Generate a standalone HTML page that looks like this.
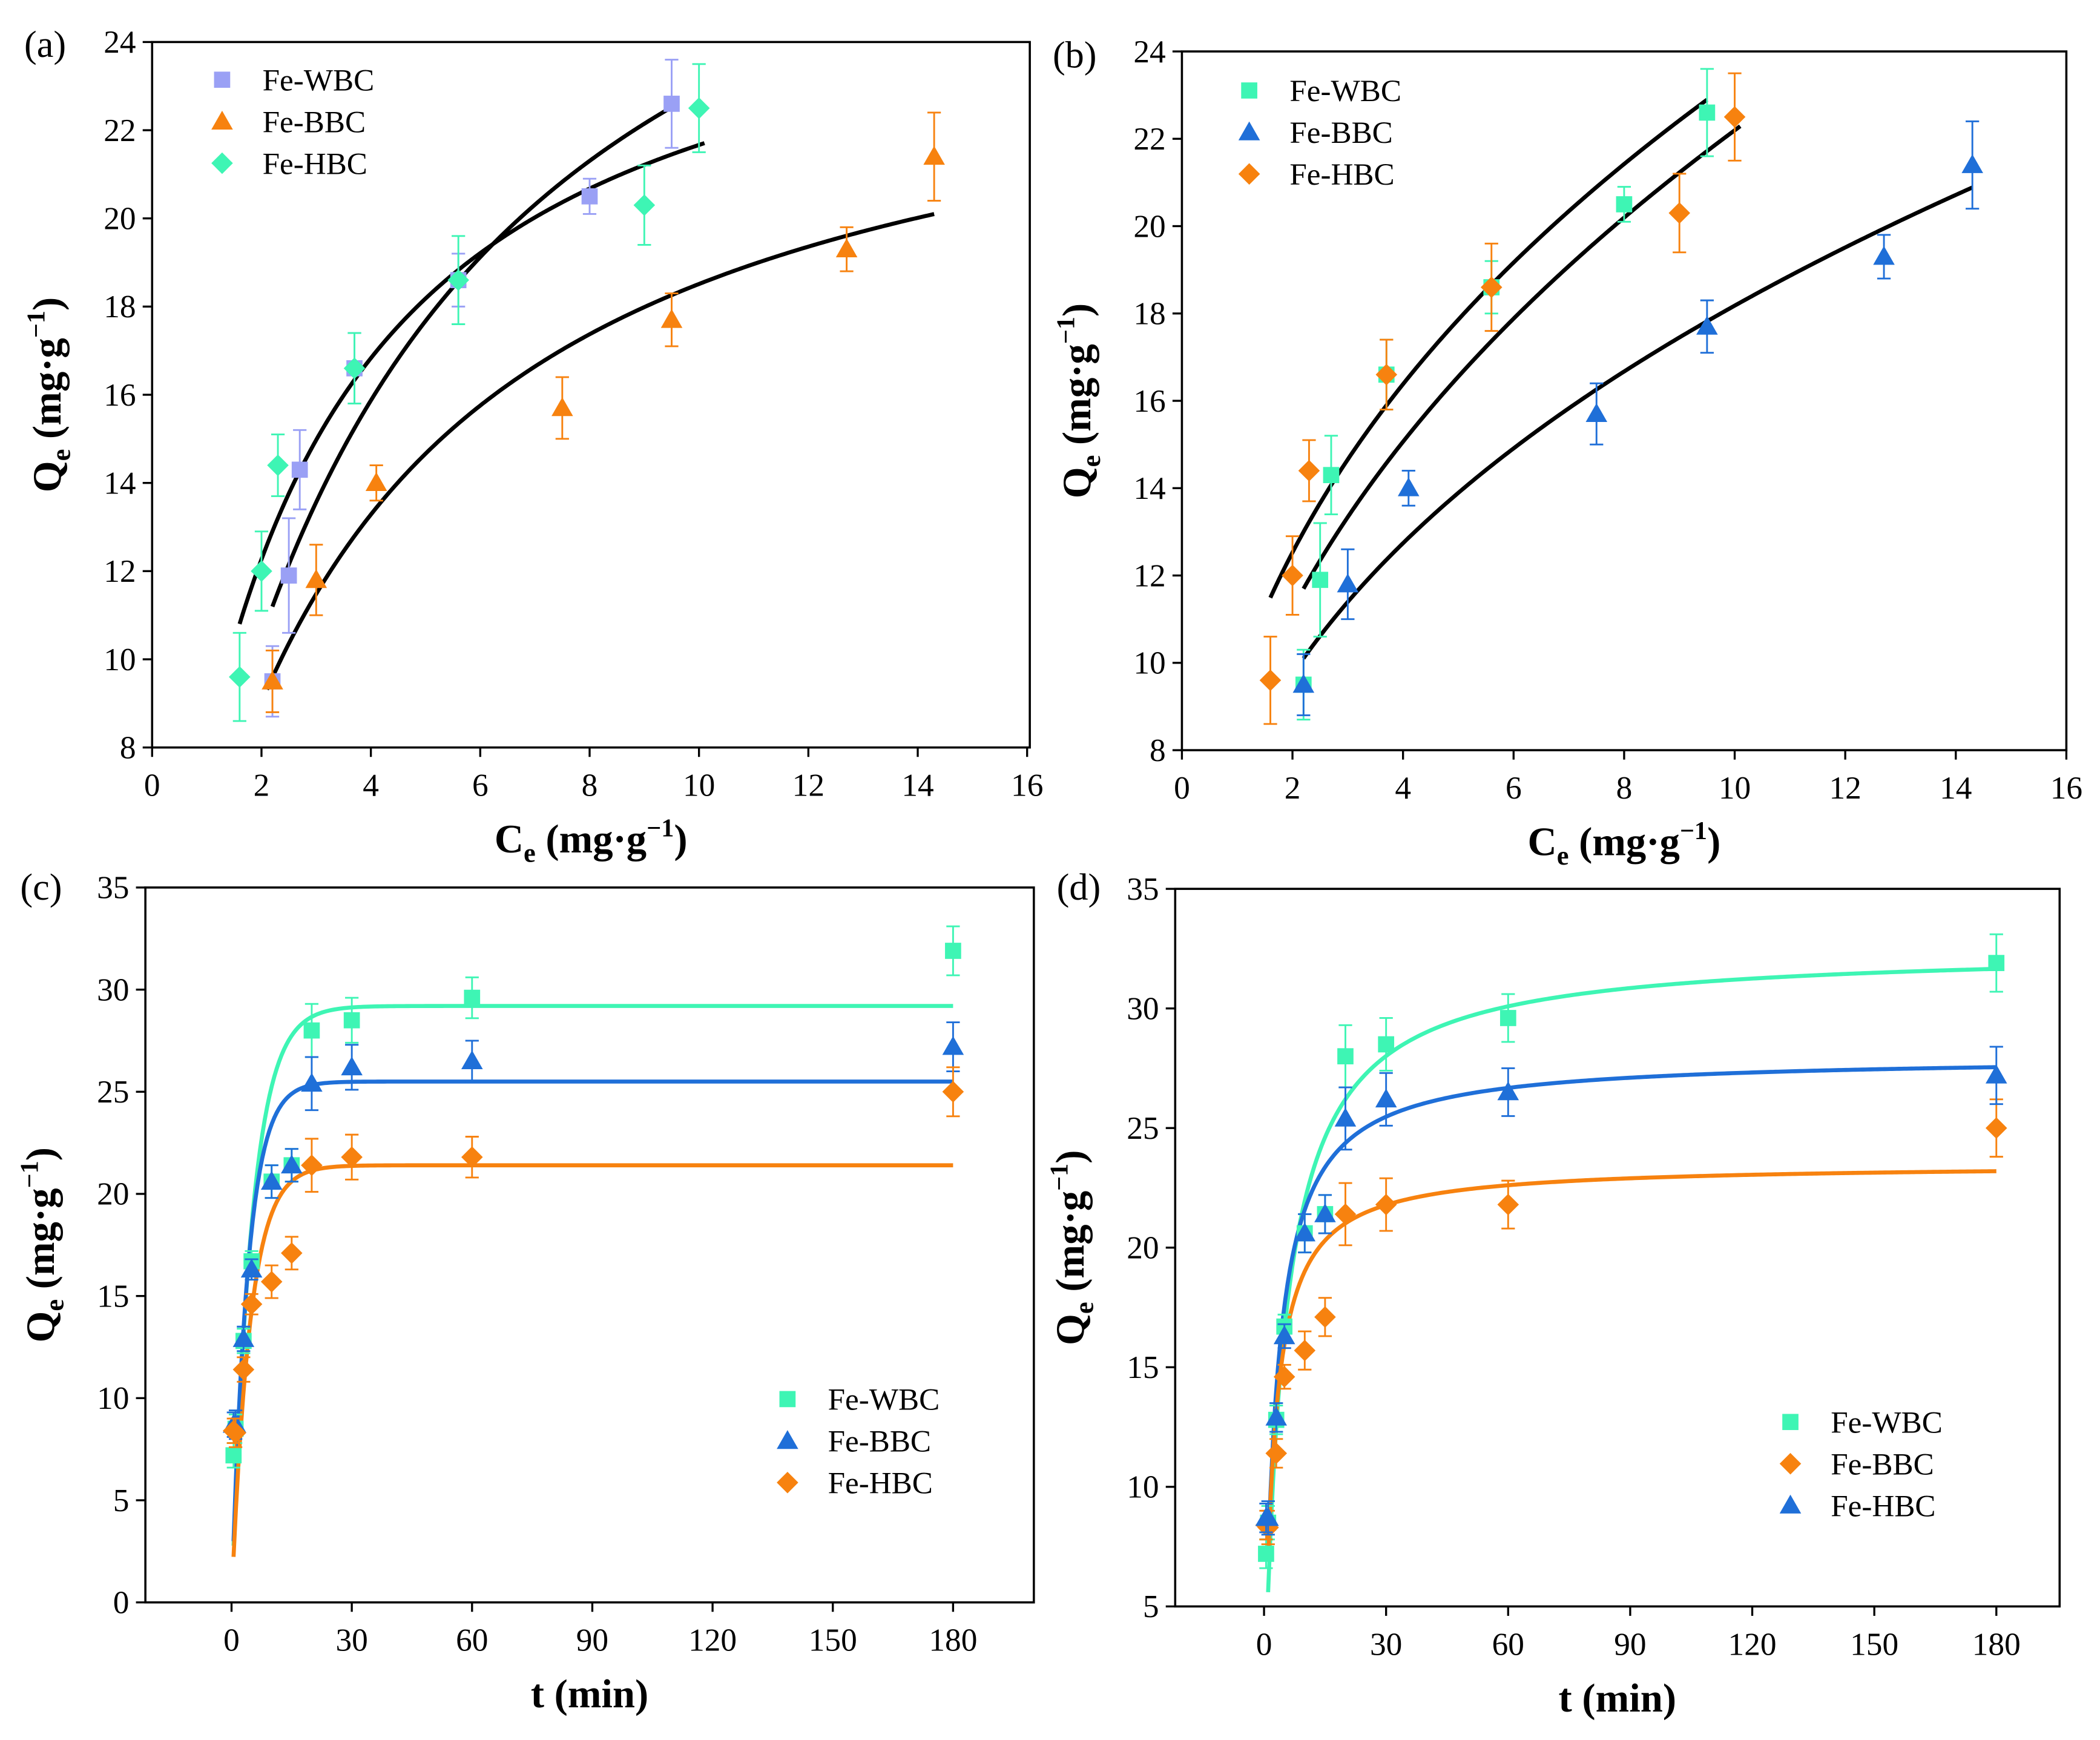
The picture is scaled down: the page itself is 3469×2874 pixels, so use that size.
<!DOCTYPE html>
<html><head><meta charset="utf-8"><style>
html,body{margin:0;padding:0;background:#fff}
svg{display:block}
text{font-family:"Liberation Serif",serif}
</style></head><body>
<svg id="chart" width="3469" height="2874" viewBox="0 0 1560 1292" xmlns="http://www.w3.org/2000/svg"></svg>
<script>
// ---- data ----
const ceWBC=[2.2,2.5,2.7,3.7,5.6,8.0,9.5];
const qeWBC=[9.5,11.9,14.3,16.6,18.6,20.5,22.6];
const errWBC=[0.8,1.3,0.9,0.8,0.6,0.4,1.0];
const ceBBC=[2.2,3.0,4.1,7.5,9.5,12.7,14.3];
const qeBBC=[9.5,11.8,14.0,15.7,17.7,19.3,21.4];
const errBBC=[0.7,0.8,0.4,0.7,0.6,0.5,1.0];
const ceHBC=[1.6,2.0,2.3,3.7,5.6,9.0,10.0];
const qeHBC=[9.6,12.0,14.4,16.6,18.6,20.3,22.5];
const errHBC=[1.0,0.9,0.7,0.8,1.0,0.9,1.0];
const tTimes=[0.5,1,3,5,10,15,20,30,60,180];
const qtWBC=[7.2,8.5,12.8,16.7,20.6,21.4,28.0,28.5,29.6,31.9];
const qtBBC=[8.7,8.7,12.9,16.3,20.6,21.4,25.4,26.2,26.5,27.2];
const qtHBC=[8.4,8.3,11.4,14.6,15.7,17.1,21.4,21.8,21.8,25.0];
const qtErr=[0.6,0.7,0.6,0.5,0.8,0.8,1.3,1.1,1.0,1.2];
const xTicksA=[0,2,4,6,8,10,12,14,16];
const yTicksA=[8,10,12,14,16,18,20,22,24];
const xTicksT=[0,30,60,90,120,150,180];
const yTicksC=[0,5,10,15,20,25,30,35];
const yTicksD=[5,10,15,20,25,30,35];
// fit parameters
const langA=[[26.8,0.422,1.6,10.1],[32.4,0.240,2.2,9.5],[25.1,0.281,2.1,14.3]];
const freundB=[[9.58,0.387,1.6,9.5],[8.38,0.423,2.2,10.1],[7.44,0.388,2.2,14.3]];
const pfoQe=[29.2,25.5,21.4], pfoK=[0.2,0.25,0.22];
const psoQe=[32.5,28.0,23.5], psoK=[0.0064,0.012,0.018];

const MINT="#3ef5b4", LAV="#9aa0f5", ORG="#f7820f", BLUE="#1f6fd8";
const svg=document.getElementById('chart');
const NS="http://www.w3.org/2000/svg";
function el(tag,attrs,parent){const e=document.createElementNS(NS,tag);for(const k in attrs)e.setAttribute(k,attrs[k]);(parent||svg).appendChild(e);return e;}

function marker(g,shape,x,y,c){
  let m;
  if(shape==='sq') m=el('rect',{x:x-6,y:y-6,width:12,height:12,fill:c},g);
  else if(shape==='tri') m=el('polygon',{points:`${x},${y-8} ${x-8},${y+6} ${x+8},${y+6}`,fill:c},g);
  else m=el('polygon',{points:`${x},${y-8} ${x+8},${y} ${x},${y+8} ${x-8},${y}`,fill:c},g);
  
  
}

function panel(o){
  const g=el('g',{});
  
  
  const sx=v=>o.x0+(v-o.xmin)/(o.xmax-o.xmin)*(o.x1-o.x0);
  const sy=v=>o.y0-(v-o.ymin)/(o.ymax-o.ymin)*(o.y0-o.y1);
  const frame=el('rect',{x:o.bx0,y:o.y1,width:o.bx1-o.bx0,height:o.y0-o.y1,fill:'none',stroke:'#000','stroke-width':1.6},g);
  
  o.xt.forEach(v=>{const x=sx(v);el('line',{x1:x,x2:x,y1:o.y0,y2:o.y0+7,stroke:'#000','stroke-width':1.5},g);
    const t=el('text',{x:x,y:o.y0+36,'font-size':24,'text-anchor':'middle'},g);t.textContent=v;
    });
  o.yt.forEach(v=>{const y=sy(v);el('line',{x1:o.bx0-7,x2:o.bx0,y1:y,y2:y,stroke:'#000','stroke-width':1.5},g);
    const t=el('text',{x:o.bx0-12,y:y+8,'font-size':24,'text-anchor':'end'},g);t.textContent=v;
    });
  o.curves.forEach(cv=>{let d='';const n=300;
    for(let i=0;i<=n;i++){const v=cv.from+(cv.to-cv.from)*i/n;d+=(i?'L':'M')+sx(v).toFixed(2)+','+sy(cv.f(v)).toFixed(2);}
    const p=el('path',{d:d,fill:'none',stroke:cv.c,'stroke-width':3},g);
    });
  o.series.forEach(s=>{
    s.xs.forEach((xv,i)=>{const x=sx(xv),y=sy(s.ys[i]),e=s.err[i];
      const ya=sy(s.ys[i]+e),yb=sy(s.ys[i]-e);
      el('line',{x1:x,x2:x,y1:ya,y2:yb,stroke:s.c,'stroke-width':1.3},g);
      el('line',{x1:x-5,x2:x+5,y1:ya,y2:ya,stroke:s.c,'stroke-width':1.3},g);
      el('line',{x1:x-5,x2:x+5,y1:yb,y2:yb,stroke:s.c,'stroke-width':1.3},g);
      marker(g,s.shape,x,y,s.c);});
  });
  o.series.forEach((s,i)=>{const ly=o.ly+i*31;
    marker(g,s.shape,o.lx,ly,s.c);
    const t=el('text',{x:o.lx+30,y:ly+8,'font-size':23},g);t.textContent=s.label;
    });
  const pl=el('text',{x:o.plx,y:o.ply,'font-size':28},g);pl.textContent=o.panel;
  
  const xl=el('text',{x:(o.bx0+o.bx1)/2,y:o.y0+78,'font-size':30,'font-weight':'bold','text-anchor':'middle'},g);
  xl.innerHTML=o.xlab;
  const cy=(o.y0+o.y1)/2, cx=o.bx0-68;
  const yl=el('text',{x:cx,y:cy,'font-size':30,'font-weight':'bold','text-anchor':'middle',transform:`rotate(-90 ${cx} ${cy})`},g);
  yl.innerHTML='Q<tspan font-size="20" dy="7">e</tspan><tspan dy="-7"> (mg·g</tspan><tspan font-size="19" dy="-12">−1</tspan><tspan dy="12">)</tspan>';
  
}
const fr=p=>v=>p[0]*Math.pow(v,p[1]);
const lang=p=>v=>p[0]*p[1]*v/(1+p[1]*v);
const pfo=i=>t=>pfoQe[i]*(1-Math.exp(-pfoK[i]*t));
const pso=i=>t=>psoQe[i]*psoQe[i]*psoK[i]*t/(1+psoQe[i]*psoK[i]*t);
const ceLab='C<tspan font-size="20" dy="7">e</tspan><tspan dy="-7"> (mg·g</tspan><tspan font-size="19" dy="-12">−1</tspan><tspan dy="12">)</tspan>';

panel({name:'panel-a',panel:'(a)',plx:18,ply:42,bx0:113,bx1:765,x0:113,x1:763,y0:555,y1:31,xmin:0,xmax:16,ymin:8,ymax:24,
  xt:xTicksA,yt:yTicksA,xlab:ceLab,lx:165,ly:59,
  curves:langA.map(p=>({f:lang(p),from:p[2],to:p[3],c:'#000'})),
  series:[{label:'Fe-WBC',shape:'sq',c:LAV,xs:ceWBC,ys:qeWBC,err:errWBC},
          {label:'Fe-BBC',shape:'tri',c:ORG,xs:ceBBC,ys:qeBBC,err:errBBC},
          {label:'Fe-HBC',shape:'dia',c:MINT,xs:ceHBC,ys:qeHBC,err:errHBC}]});
panel({name:'panel-b',panel:'(b)',plx:782,ply:50,bx0:878,bx1:1535,x0:878,x1:1535,y0:557,y1:38,xmin:0,xmax:16,ymin:8,ymax:24,
  xt:xTicksA,yt:yTicksA,xlab:ceLab,lx:928,ly:67,
  curves:freundB.map(p=>({f:fr(p),from:p[2],to:p[3],c:'#000'})),
  series:[{label:'Fe-WBC',shape:'sq',c:MINT,xs:ceWBC,ys:qeWBC,err:errWBC},
          {label:'Fe-BBC',shape:'tri',c:BLUE,xs:ceBBC,ys:qeBBC,err:errBBC},
          {label:'Fe-HBC',shape:'dia',c:ORG,xs:ceHBC,ys:qeHBC,err:errHBC}]});
panel({name:'panel-c',panel:'(c)',plx:15,ply:668,bx0:108,bx1:768,x0:172,x1:708,y0:1190,y1:659,xmin:0,xmax:180,ymin:0,ymax:35,
  xt:xTicksT,yt:yTicksC,xlab:'t (min)',lx:585,ly:1039,
  curves:[{f:pfo(0),from:0.5,to:180,c:MINT},{f:pfo(1),from:0.5,to:180,c:BLUE},{f:pfo(2),from:0.5,to:180,c:ORG}],
  series:[{label:'Fe-WBC',shape:'sq',c:MINT,xs:tTimes,ys:qtWBC,err:qtErr},
          {label:'Fe-BBC',shape:'tri',c:BLUE,xs:tTimes,ys:qtBBC,err:qtErr},
          {label:'Fe-HBC',shape:'dia',c:ORG,xs:tTimes,ys:qtHBC,err:qtErr}]});
panel({name:'panel-d',panel:'(d)',plx:785,ply:668,bx0:873,bx1:1530,x0:939,x1:1483,y0:1193,y1:660,xmin:0,xmax:180,ymin:5,ymax:35,
  xt:xTicksT,yt:yTicksD,xlab:'t (min)',lx:1330,ly:1056,
  curves:[{f:pso(0),from:1,to:180,c:MINT},{f:pso(1),from:1,to:180,c:BLUE},{f:pso(2),from:1,to:180,c:ORG}],
  series:[{label:'Fe-WBC',shape:'sq',c:MINT,xs:tTimes,ys:qtWBC,err:qtErr},
          {label:'Fe-BBC',shape:'dia',c:ORG,xs:tTimes,ys:qtHBC,err:qtErr},
          {label:'Fe-HBC',shape:'tri',c:BLUE,xs:tTimes,ys:qtBBC,err:qtErr}]});
</script>
</body></html>
